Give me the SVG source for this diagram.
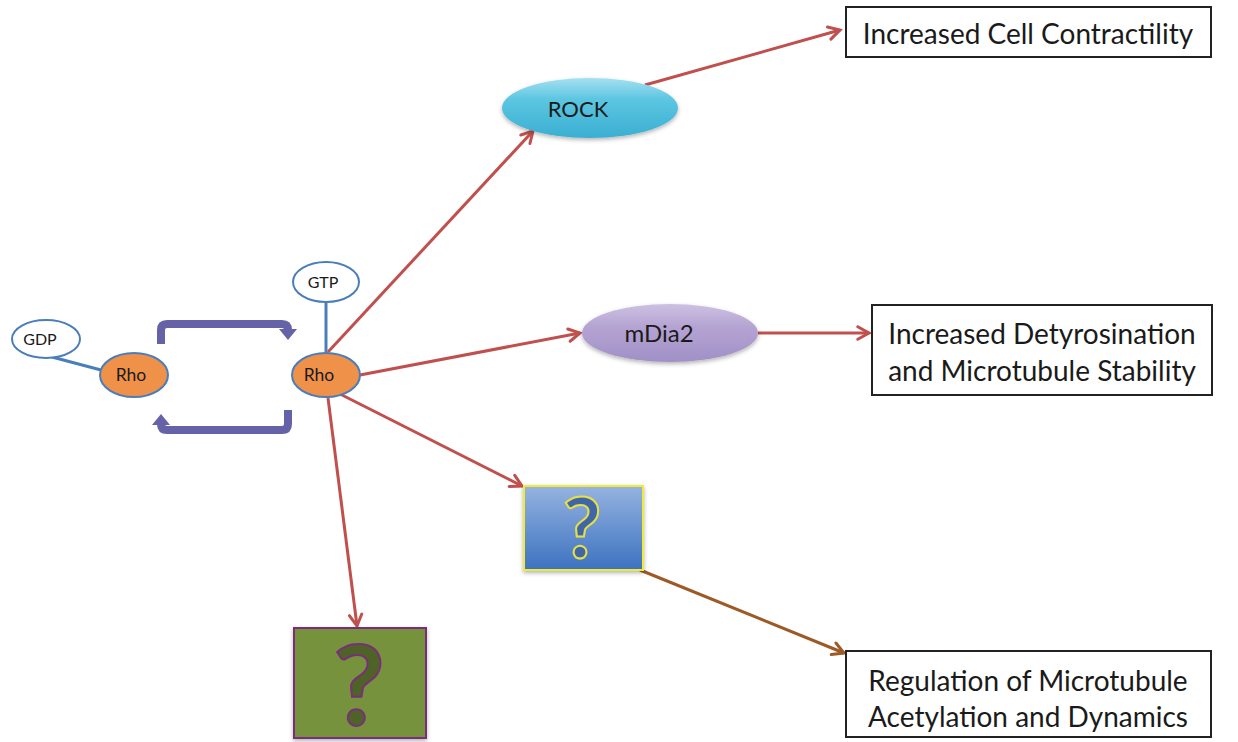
<svg xmlns="http://www.w3.org/2000/svg" width="1238" height="742" viewBox="0 0 1238 742">
<style>
.t{font-family:Lato,"Open Sans","Liberation Sans",sans-serif;fill:#1a1a1a;text-anchor:middle}
.red{stroke:#c0504d;stroke-width:3;fill:none;marker-end:url(#ar)}
.blue{stroke:#4a7ebb;stroke-width:3;fill:none}
.cyc{stroke:#6562a8;stroke-width:8;fill:none;stroke-linejoin:round}
.cyh{fill:#6562a8}
.box{fill:#fff;stroke:#222;stroke-width:2}
.q{font-family:Lato,"Liberation Sans",sans-serif;font-weight:bold;text-anchor:middle;stroke-width:2}
</style>
<defs>
<marker id="ar" viewBox="0 0 12 12" refX="11" refY="6" markerWidth="15" markerHeight="15" orient="auto" markerUnits="userSpaceOnUse" style="overflow:visible">
<path d="M2,1 L11,6 L2,11" fill="none" stroke="#c0504d" stroke-width="2.4" stroke-linejoin="miter" stroke-linecap="round"/>
</marker>
<marker id="arb" viewBox="0 0 12 12" refX="11" refY="6" markerWidth="15" markerHeight="15" orient="auto" markerUnits="userSpaceOnUse" style="overflow:visible">
<path d="M2,1 L11,6 L2,11" fill="none" stroke="#9c5a26" stroke-width="2.4" stroke-linecap="round"/>
</marker>
<linearGradient id="gRock" x1="0" y1="0" x2="0" y2="1">
<stop offset="0" stop-color="#a6e0f0"/><stop offset="0.35" stop-color="#5cc6e2"/><stop offset="1" stop-color="#3aafd2"/>
</linearGradient>
<linearGradient id="gDia" x1="0" y1="0" x2="0" y2="1">
<stop offset="0" stop-color="#cdc1e2"/><stop offset="0.4" stop-color="#b4a3d2"/><stop offset="1" stop-color="#a190c6"/>
</linearGradient>
<linearGradient id="gBlue" x1="0" y1="0" x2="0" y2="1">
<stop offset="0" stop-color="#95b3e0"/><stop offset="1" stop-color="#3c72c0"/>
</linearGradient>
<filter id="sh" x="-20%" y="-20%" width="140%" height="150%">
<feDropShadow dx="0" dy="2" stdDeviation="2" flood-color="#000" flood-opacity="0.3"/>
</filter>
</defs>
<rect width="1238" height="742" fill="#fff"/>
<g id="connectors">
<line class="blue" x1="101" y1="370" x2="52" y2="357"/>
<line class="blue" x1="326" y1="302" x2="326" y2="353"/>
<path class="cyc" d="M161,344 L161,330 Q161,324 167,324 L282,324 Q288,324 288,330 L288,331"/>
<polygon class="cyh" points="279,329 297,329 288,340"/>
<path class="cyc" d="M288,410 L288,424 Q288,430 282,430 L167,430 Q161,430 161,424 L161,423"/>
<polygon class="cyh" points="152,425 170,425 161,414"/>
<line class="red" x1="328" y1="352" x2="533" y2="131"/>
<line class="red" x1="645" y1="85" x2="840" y2="30"/>
<line class="red" x1="360" y1="375" x2="580" y2="333"/>
<line class="red" x1="758" y1="333" x2="869" y2="333"/>
<line class="red" x1="340" y1="394" x2="522" y2="486"/>
<line class="red" x1="328" y1="398" x2="357" y2="626"/>
<line x1="640" y1="570" x2="844" y2="653" stroke="#9c5a26" stroke-width="3" marker-end="url(#arb)"/>
</g>
<g id="gdp"><ellipse cx="46" cy="339" rx="34" ry="19" fill="#fff" stroke="#4a7ebb" stroke-width="2"/><text class="t" x="40" y="345" font-size="16">GDP</text></g>
<g id="gtp"><ellipse cx="326" cy="282" rx="33" ry="20" fill="#fff" stroke="#4a7ebb" stroke-width="2"/><text class="t" x="323" y="288" font-size="16">GTP</text></g>
<g id="rho1"><ellipse cx="134" cy="375" rx="34" ry="22" fill="#f0914a" stroke="#4a7ebb" stroke-width="2"/><text class="t" x="131" y="381" font-size="17.5">Rho</text></g>
<g id="rho2"><ellipse cx="326" cy="375" rx="34" ry="22" fill="#f0914a" stroke="#4a7ebb" stroke-width="2"/><text class="t" x="319" y="381" font-size="17.5">Rho</text></g>
<g id="rock"><ellipse cx="590" cy="108" rx="88" ry="30" fill="url(#gRock)" filter="url(#sh)"/><text class="t" x="578" y="117" font-size="22">ROCK</text></g>
<g id="mdia2"><ellipse cx="670" cy="333" rx="88" ry="29" fill="url(#gDia)" filter="url(#sh)"/><text class="t" x="659" y="342" font-size="24">mDia2</text></g>
<g id="q1"><rect x="524" y="486" width="119" height="84" fill="url(#gBlue)" stroke="#f2ea3a" stroke-width="2" filter="url(#sh)"/><text class="q" x="582" y="558" font-size="84" fill="#3f66a8" stroke="#e8e040">?</text></g>
<g id="q2"><rect x="294" y="628" width="132" height="110" fill="#76923c" stroke="#7a2f7a" stroke-width="2" filter="url(#sh)"/><text class="q" x="359" y="725" font-size="112" fill="#4f6228" stroke="#7a2f7a">?</text></g>
<g id="box1"><rect class="box" x="846" y="7" width="365" height="50"/><text class="t" x="1028" y="44" font-size="28">Increased Cell Contractility</text></g>
<g id="box2"><rect class="box" x="872" y="305" width="340" height="90"/><text class="t" x="1042" y="344" font-size="28">Increased Detyrosination</text><text class="t" x="1042" y="381" font-size="28">and Microtubule Stability</text></g>
<g id="box3"><rect class="box" x="846" y="651" width="365" height="86"/><text class="t" x="1028" y="691" font-size="28">Regulation of Microtubule</text><text class="t" x="1028" y="727" font-size="28">Acetylation and Dynamics</text></g>
</svg>
